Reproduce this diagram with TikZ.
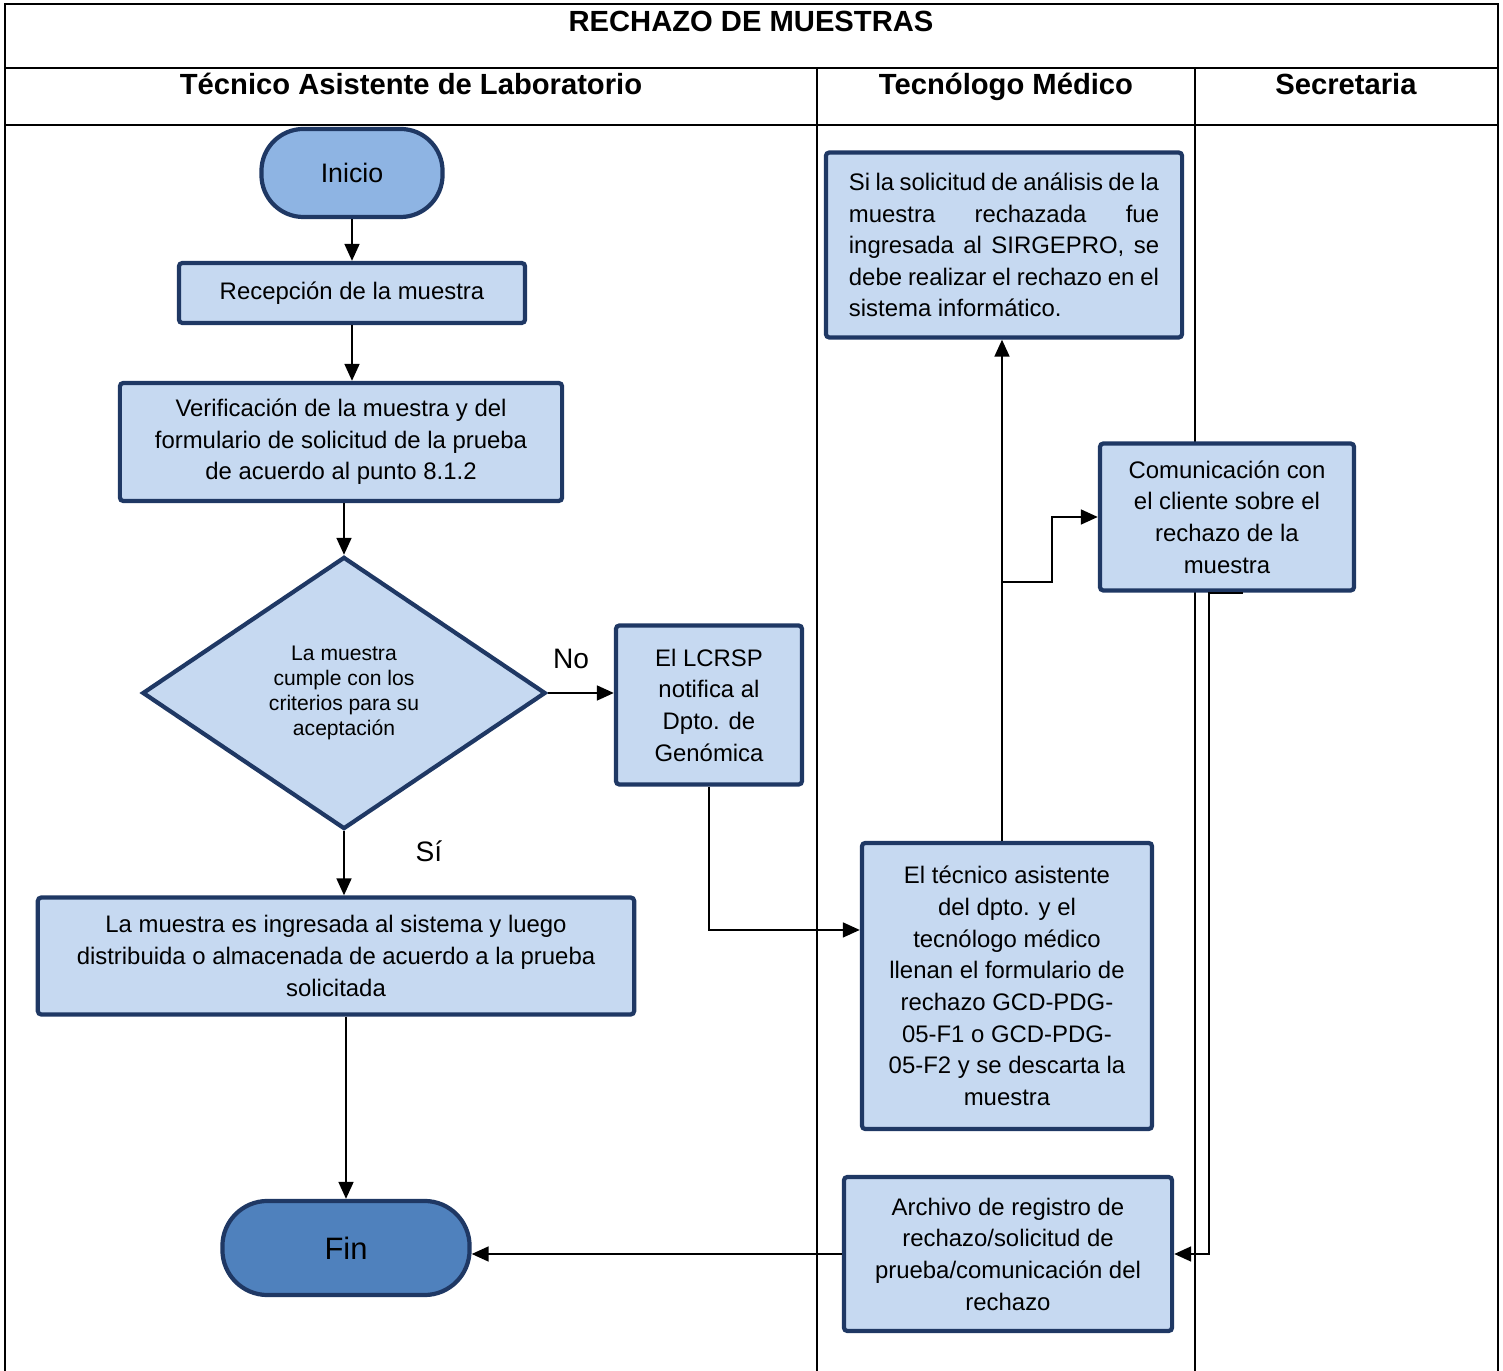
\documentclass[tikz,border=0pt]{standalone}
\usepackage{fontspec}
\setmainfont{Liberation Sans}
\usetikzlibrary{shapes.geometric, arrows.meta}

\definecolor{azulClaro}{HTML}{C6D9F1}
\definecolor{azulInicio}{HTML}{8EB4E3}
\definecolor{azulFin}{HTML}{4F81BD}
\definecolor{bordeAzul}{HTML}{1F3864}

\newcommand{\lineaJ}[1]{\makebox[3.1cm][s]{#1}}

\begin{document}
\begin{tikzpicture}[
    x=0.01cm, y=-0.01cm,
    every node/.style={font=\fontsize{6.8pt}{9pt}\selectfont, inner sep=0pt},
    caja/.style={draw=bordeAzul, fill=azulClaro, line width=1.2pt, rounded corners=1pt, align=center},
    terminal/.style={draw=bordeAzul, line width=1.2pt, align=center},
    rombo/.style={diamond, draw=bordeAzul, fill=azulClaro, line width=1.2pt, align=center, minimum width=4.03cm, minimum height=2.72cm, font=\fontsize{6pt}{7.1pt}\selectfont},
    encabezado/.style={anchor=base, font=\fontsize{8.3pt}{10pt}\selectfont\bfseries},
    etiqueta/.style={font=\fontsize{8pt}{10pt}\selectfont},
    marco/.style={line width=0.7pt},
    flecha/.style={-{Triangle[length=4.8pt, width=4.2pt]}, line width=0.6pt}
]
\useasboundingbox (0,0) rectangle (1503,1371);
% Tabla
\draw[marco] (5,1371) -- (5,4) -- (1498,4) -- (1498,1371);
\draw[marco] (5,68) -- (1498,68);
\draw[marco] (5,125) -- (1498,125);
\draw[marco] (817,68) -- (817,1371);
\draw[marco] (1195,68) -- (1195,1371);
\node[encabezado] (titulo) at (751,32) {RECHAZO DE MUESTRAS};
\node[encabezado] (carrilTecnico) at (411,95) {Técnico Asistente de Laboratorio};
\node[encabezado] (carrilTecnologo) at (1006,95) {Tecnólogo Médico};
\node[encabezado] (carrilSecretaria) at (1346,95) {Secretaria};
% Tecnico asistente
\node[terminal, fill=azulInicio, rounded corners=0.42cm, minimum width=1.81cm, minimum height=0.88cm, font=\fontsize{7.6pt}{9pt}\selectfont] (inicio) at (352,173) {Inicio};
\node[caja, minimum width=3.46cm, minimum height=0.6cm] (recepcion) at (352,293) {Recepción de la muestra};
\node[caja, minimum width=4.42cm, minimum height=1.18cm] (verificacion) at (341,442) {Verificación de la muestra y del\\formulario de solicitud de la prueba\\de acuerdo al punto 8.1.2};
\node[rombo] (decision) at (344,693) {La muestra\\cumple con los\\criterios para su\\aceptación};
\node[etiqueta] (etiquetaNo) at (571,659) {No};
\node[caja, minimum width=1.86cm, minimum height=1.59cm] (notifica) at (709,705) {El LCRSP\\notifica al\\Dpto. de\\Genómica};
\node[etiqueta] (etiquetaSi) at (429,851) {Sí};
\node[caja, minimum width=5.96cm, minimum height=1.17cm] (ingreso) at (336,956) {La muestra es ingresada al sistema y luego\\distribuida o almacenada de acuerdo a la prueba\\solicitada};
\node[terminal, fill=azulFin, rounded corners=0.45cm, minimum width=2.47cm, minimum height=0.94cm, font=\fontsize{8.8pt}{10pt}\selectfont] (fin) at (346,1248) {Fin};
% Tecnologo medico
\node[caja, minimum width=3.56cm, minimum height=1.85cm, align=left] (rechazoSistema) at (1004,245) {\lineaJ{Si la solicitud de análisis de la}\\\lineaJ{muestra rechazada fue}\\\lineaJ{ingresada al SIRGEPRO, se}\\\lineaJ{debe realizar el rechazo en el}\\sistema informático.};
\node[caja, minimum width=2.9cm, minimum height=2.86cm] (formulario) at (1007,986) {El técnico asistente\\del dpto. y el\\tecnólogo médico\\llenan el formulario de\\rechazo GCD-PDG-\\05-F1 o GCD-PDG-\\05-F2 y se descarta la\\muestra};
\node[caja, minimum width=3.28cm, minimum height=1.54cm] (archivo) at (1008,1254) {Archivo de registro de\\rechazo/solicitud de\\prueba/comunicación del\\rechazo};
% Secretaria
\node[caja, minimum width=2.54cm, minimum height=1.47cm] (comunicacion) at (1227,517) {Comunicación con\\el cliente sobre el\\rechazo de la\\muestra};
% Aristas
\draw[flecha] (inicio) -- (recepcion);
\draw[flecha] (recepcion.south) -- (recepcion.south |- verificacion.north);
\draw[flecha] (verificacion.south -| decision.north) -- (decision.north);
\draw[flecha] (decision.south) -- (decision.south |- ingreso.north);
\draw[flecha] (decision.east) -- (decision.east -| notifica.west);
\draw[flecha] (notifica.south) |- ([yshift=0.56cm]formulario.west);
\draw[flecha] ([xshift=-0.05cm]formulario.north) -- ([xshift=-0.05cm]formulario.north |- rechazoSistema.south);
\coordinate (ramal) at ([xshift=-0.05cm]formulario.north |- 0,582);
\draw[flecha] (ramal) -- ++(50,0) |- (comunicacion.west);
\draw[flecha] ([xshift=0.16cm]comunicacion.south) -- ++(-34,0) |- (archivo.east);
\draw[flecha] (archivo.west) -- (archivo.west -| fin.east);
\draw[flecha] (ingreso.south -| fin.north) -- (fin.north);
\end{tikzpicture}
\end{document}
